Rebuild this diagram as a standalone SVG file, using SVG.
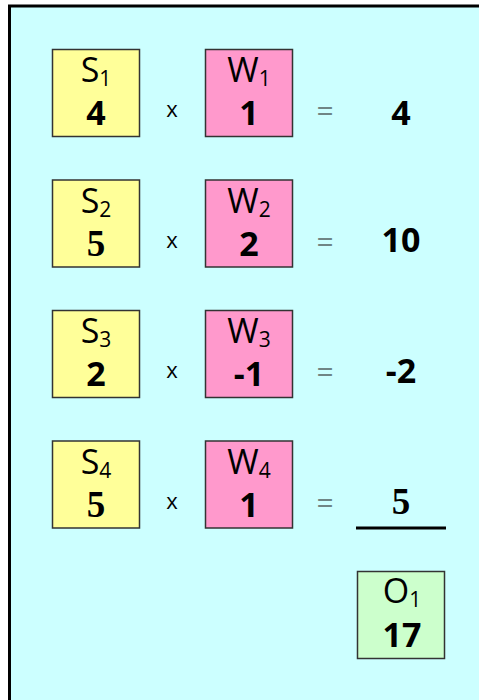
<svg xmlns="http://www.w3.org/2000/svg" width="479" height="700" viewBox="0 0 479 700">
<style>
.bg{fill:#CCFFFF;stroke:#000;stroke-width:3}
.box{stroke:#333;stroke-width:1.5}
.s{fill:#FFFF99}
.w{fill:#FF99CC}
.o{fill:#CCFFCC}
.lbl{font-family:"Open Sans","Liberation Sans",sans-serif;font-size:34px;fill:#000;text-anchor:middle}
.sub{font-size:21px}
.num{font-family:"Open Sans","Liberation Sans",sans-serif;font-size:34px;font-weight:bold;fill:#000;text-anchor:middle}
.ser{font-family:"Liberation Serif",serif;font-size:37px;font-weight:bold}
.op{font-family:"Open Sans","Liberation Sans",sans-serif;font-size:22px;fill:#000;text-anchor:middle}
.eq{fill:#6f8585;font-size:30px}
</style>
<rect class="bg" x="9.5" y="6" width="500" height="720"/>
<g id="row1">
<g id="S1"><rect class="box s" x="52.5" y="49.5" width="87" height="87"/><text class="lbl" x="96" y="82">S<tspan class="sub" dy="4">1</tspan></text><text class="num" x="96" y="125">4</text></g>
<text class="op" x="172" y="117">x</text>
<g id="W1"><rect class="box w" x="205.5" y="49.5" width="87" height="87"/><text class="lbl" x="249" y="82">W<tspan class="sub" dy="4">1</tspan></text><text class="num" x="249" y="125">1</text></g>
<text class="op eq" x="325" y="121">=</text>
<text class="num" x="401" y="125">4</text>
</g>
<g id="row2">
<g id="S2"><rect class="box s" x="52.5" y="180" width="87" height="87"/><text class="lbl" x="96" y="212.5">S<tspan class="sub" dy="4">2</tspan></text><text class="num ser" x="96" y="255.5">5</text></g>
<text class="op" x="172" y="247.5">x</text>
<g id="W2"><rect class="box w" x="205.5" y="180" width="87" height="87"/><text class="lbl" x="249" y="212.5">W<tspan class="sub" dy="4">2</tspan></text><text class="num" x="249" y="255.5">2</text></g>
<text class="op eq" x="325" y="251.5">=</text>
<text class="num" x="401" y="252">10</text>
</g>
<g id="row3">
<g id="S3"><rect class="box s" x="52.5" y="310.5" width="87" height="87"/><text class="lbl" x="96" y="343">S<tspan class="sub" dy="4">3</tspan></text><text class="num" x="96" y="386">2</text></g>
<text class="op" x="172" y="378">x</text>
<g id="W3"><rect class="box w" x="205.5" y="310.5" width="87" height="87"/><text class="lbl" x="249" y="343">W<tspan class="sub" dy="4">3</tspan></text><text class="num" x="249" y="386">-1</text></g>
<text class="op eq" x="325" y="382">=</text>
<text class="num" x="401" y="383">-2</text>
</g>
<g id="row4">
<g id="S4"><rect class="box s" x="52.5" y="441" width="87" height="87"/><text class="lbl" x="96" y="473.5">S<tspan class="sub" dy="4">4</tspan></text><text class="num ser" x="96" y="516.5">5</text></g>
<text class="op" x="172" y="508.5">x</text>
<g id="W4"><rect class="box w" x="205.5" y="441" width="87" height="87"/><text class="lbl" x="249" y="473.5">W<tspan class="sub" dy="4">4</tspan></text><text class="num" x="249" y="516.5">1</text></g>
<text class="op eq" x="325" y="512.5">=</text>
<text class="num ser" x="401" y="514">5</text>
</g>
<g id="connectors"><line x1="356" y1="528" x2="446" y2="528" stroke="#000" stroke-width="3"/></g>
<g id="O1"><rect class="box o" x="357.5" y="571.5" width="87" height="87"/><text class="lbl" x="402" y="603">O<tspan class="sub" dy="4">1</tspan></text><text class="num" x="402" y="647">17</text></g>
</svg>
